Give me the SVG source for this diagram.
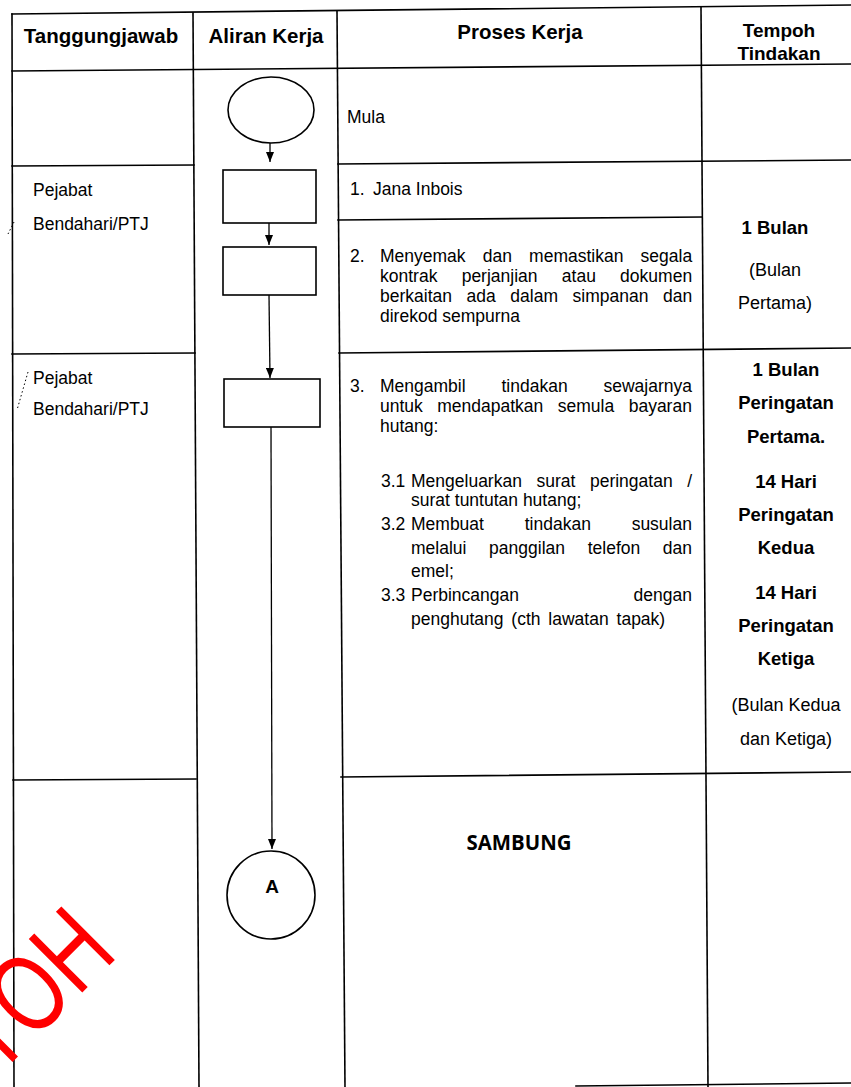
<svg xmlns="http://www.w3.org/2000/svg" width="851" height="1087" viewBox="0 0 851 1087">
  <defs>
    <style>
      .grid line{stroke:#000;stroke-width:1.6;stroke-linecap:square}
      .shape{fill:#fff;stroke:#000;stroke-width:1.6}
      .wire{stroke:#000;stroke-width:1.3;fill:none}
      .speck{stroke:#000;stroke-width:1;stroke-dasharray:1.5 2.5;fill:none}
      text{font-family:"Liberation Sans",Arial,sans-serif;fill:#000}
      .hd{font-size:20.5px;font-weight:bold;text-anchor:middle}
      .tx{font-size:17.5px}
      .tb{font-size:18.5px;font-weight:bold;text-anchor:middle}
      .tr{font-size:18px;text-anchor:middle}
      .mark{font-size:110px;fill:#ff0000;text-anchor:end}
    </style>
    <marker id="arrow" viewBox="0 0 10 8" refX="10" refY="4" markerWidth="10" markerHeight="8" markerUnits="userSpaceOnUse" orient="auto">
      <path d="M0,0 L10,4 L0,8 z" fill="#000"/>
    </marker>
  </defs>

  <rect width="851" height="1087" fill="#fff"/>

  <!-- table rules -->
  <g id="grid" class="grid">
    <line x1="12" y1="14" x2="851" y2="5"/>
    <line x1="12" y1="71" x2="851" y2="64"/>
    <line x1="12" y1="166" x2="194" y2="165"/>
    <line x1="338" y1="164" x2="851" y2="160"/>
    <line x1="338" y1="220" x2="702" y2="217"/>
    <line x1="12" y1="354" x2="195" y2="353"/>
    <line x1="339" y1="353" x2="851" y2="348"/>
    <line x1="13" y1="780" x2="196" y2="779"/>
    <line x1="341" y1="777" x2="851" y2="772"/>
    <line x1="576" y1="1086" x2="851" y2="1083"/>
    <line x1="12" y1="14" x2="14" y2="1087"/>
    <line x1="193" y1="13" x2="199" y2="1087"/>
    <line x1="337" y1="11" x2="345" y2="1087"/>
    <line x1="701" y1="7" x2="708" y2="1087"/>
  </g>

  <!-- small scan marks beside the left column -->
  <g id="specks">
    <path class="speck" d="M14,222 L8,234"/>
    <path class="speck" d="M28,372 L17,410"/>
  </g>

  <!-- header row -->
  <g id="header">
    <text class="hd" x="101" y="43">Tanggungjawab</text>
    <text class="hd" x="266" y="43">Aliran Kerja</text>
    <text class="hd" x="520" y="39">Proses Kerja</text>
    <text class="hd" x="779" y="37" style="font-size:19px">Tempoh</text>
    <text class="hd" x="779" y="60" style="font-size:19px">Tindakan</text>
  </g>

  <!-- responsibility column -->
  <g id="owner-1">
    <text class="tx" x="33" y="196">Pejabat</text>
    <text class="tx" x="33" y="230">Bendahari/PTJ</text>
  </g>
  <g id="owner-2">
    <text class="tx" x="33" y="384">Pejabat</text>
    <text class="tx" x="33" y="415">Bendahari/PTJ</text>
  </g>

  <!-- flow connectors -->
  <g id="connectors" class="wire">
    <line x1="270" y1="143" x2="270" y2="162" marker-end="url(#arrow)"/>
    <line x1="269" y1="223" x2="269" y2="245" marker-end="url(#arrow)"/>
    <line x1="269" y1="295" x2="270" y2="378" marker-end="url(#arrow)"/>
    <line x1="271" y1="427" x2="272" y2="849" marker-end="url(#arrow)"/>
  </g>

  <!-- flow nodes -->
  <g id="node-start">
    <ellipse class="shape" cx="271" cy="110" rx="43" ry="33"/>
  </g>
  <g id="node-step1">
    <rect class="shape" x="223" y="170" width="93" height="53"/>
  </g>
  <g id="node-step2">
    <rect class="shape" x="223" y="247" width="93" height="48"/>
  </g>
  <g id="node-step3">
    <rect class="shape" x="224" y="379" width="96" height="48"/>
  </g>
  <g id="node-connector-a">
    <circle class="shape" cx="271" cy="895" r="44"/>
    <text x="272" y="893" style="font-size:19px;font-weight:bold;text-anchor:middle">A</text>
  </g>

  <!-- process column -->
  <g id="proc-start">
    <text class="tx" x="347" y="123">Mula</text>
  </g>
  <g id="proc-1">
    <text class="tx" x="350" y="195">1.</text>
    <text class="tx" x="373" y="195">Jana Inbois</text>
  </g>
  <g id="proc-2">
    <text class="tx" x="350" y="262">2.</text>
    <text class="tx" x="380" y="262" style="word-spacing:12.3px">Menyemak dan memastikan segala</text>
    <text class="tx" x="380" y="282" style="word-spacing:19.4px">kontrak perjanjian atau dokumen</text>
    <text class="tx" x="380" y="302" style="word-spacing:9.7px">berkaitan ada dalam simpanan dan</text>
    <text class="tx" x="380" y="322">direkod sempurna</text>
  </g>
  <g id="proc-3">
    <text class="tx" x="350" y="392">3.</text>
    <text class="tx" x="380" y="392" style="word-spacing:31px">Mengambil tindakan sewajarnya</text>
    <text class="tx" x="380" y="412" style="word-spacing:9.6px">untuk mendapatkan semula bayaran</text>
    <text class="tx" x="380" y="432">hutang:</text>

    <text class="tx" x="381" y="487">3.1</text>
    <text class="tx" x="411" y="487" style="word-spacing:9.7px">Mengeluarkan surat peringatan /</text>
    <text class="tx" x="411" y="506">surat tuntutan hutang;</text>
    <text class="tx" x="381" y="530">3.2</text>
    <text class="tx" x="411" y="530" style="word-spacing:35.9px">Membuat tindakan susulan</text>
    <text class="tx" x="411" y="554" style="word-spacing:17.8px">melalui panggilan telefon dan</text>
    <text class="tx" x="411" y="577">emel;</text>
    <text class="tx" x="381" y="601">3.3</text>
    <text class="tx" x="411" y="601">Perbincangan</text>
    <text class="tx" x="692" y="601" style="text-anchor:end">dengan</text>
    <text class="tx" x="411" y="625" style="word-spacing:3px">penghutang (cth lawatan tapak)</text>
  </g>
  <g id="proc-continue">
    <text x="519" y="850" textLength="105" lengthAdjust="spacingAndGlyphs" style="font-family:'Open Sans','Liberation Sans',sans-serif;font-size:22px;font-weight:bold;text-anchor:middle">SAMBUNG</text>
  </g>

  <!-- action period column -->
  <g id="period-1">
    <text class="tb" x="775" y="234">1 Bulan</text>
    <text class="tr" x="775" y="276">(Bulan</text>
    <text class="tr" x="775" y="309">Pertama)</text>
  </g>
  <g id="period-2">
    <text class="tb" x="786" y="376">1 Bulan</text>
    <text class="tb" x="786" y="409">Peringatan</text>
    <text class="tb" x="786" y="443">Pertama.</text>
    <text class="tb" x="786" y="488">14 Hari</text>
    <text class="tb" x="786" y="521">Peringatan</text>
    <text class="tb" x="786" y="554">Kedua</text>
    <text class="tb" x="786" y="599">14 Hari</text>
    <text class="tb" x="786" y="632">Peringatan</text>
    <text class="tb" x="786" y="665">Ketiga</text>
    <text class="tr" x="786" y="711">(Bulan Kedua</text>
    <text class="tr" x="786" y="745">dan Ketiga)</text>
  </g>

  <!-- red stamp across the lower left corner, narrow lettering -->
  <g id="stamp">
    <text class="mark" transform="translate(119.6,955) rotate(-45) scale(0.75,1)">CONTOH</text>
  </g>
</svg>
